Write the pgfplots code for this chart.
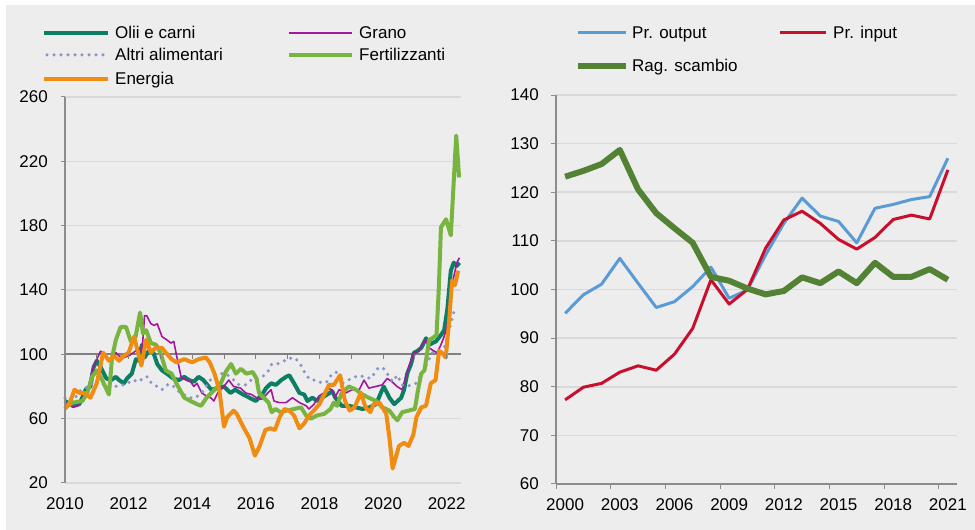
\documentclass[border=0pt]{standalone}
\usepackage{fontspec}
\setmainfont{Liberation Sans}
\usepackage{pgfplots}
\pgfplotsset{compat=1.18}
\definecolor{bg}{HTML}{EDEDED}
\definecolor{gridc}{HTML}{D9D9D9}
\definecolor{axisgray}{HTML}{8C8C8C}
\definecolor{gray100}{HTML}{808080}
\definecolor{cteal}{HTML}{0B7E63}
\definecolor{cpurple}{HTML}{A3179E}
\definecolor{cdots}{HTML}{8C93C8}
\definecolor{clgreen}{HTML}{78B440}
\definecolor{corange}{HTML}{F08C12}
\definecolor{cblue}{HTML}{5B9BD5}
\definecolor{cred}{HTML}{C8102E}
\definecolor{cdgreen}{HTML}{548235}
\tikzset{
  sTeal/.style={cteal, line width=4pt, line join=round},
  sPurple/.style={cpurple, line width=1.6pt, line join=round},
  sDots/.style={cdots, line width=3.5pt, line cap=round, dash pattern=on 0pt off 7pt},
  sLgreen/.style={clgreen, line width=4pt, line join=round},
  sOrange/.style={corange, line width=4pt, line join=round},
  sBlue/.style={cblue, line width=3pt, line join=round},
  sRed/.style={cred, line width=3pt, line join=round},
  sDgreen/.style={cdgreen, line width=6pt, line join=round},
}
\pgfplotsset{
  common/.style={
    scale only axis, clip=false,
    axis line style={draw=none},
    xtick pos=bottom, ytick pos=left,
    tick align=outside,
    ymajorgrids, grid style={draw=gridc, line width=1.6pt},
    tick label style={font=\fontsize{17}{20}\selectfont},
    /pgf/number format/assume math mode=true,
    /pgf/number format/1000 sep={},
  },
}
\begin{document}
\fontsize{17}{20}\selectfont
\begin{tikzpicture}[x=1pt,y=1pt]
\fill[white] (0,0) rectangle (975,530);
\fill[bg] (6,0) rectangle (975,525);
% ---------------- left chart
\begin{axis}[common,
  at={(65pt,47pt)}, anchor=south west,
  width=396pt, height=386pt,
  xmin=2010, xmax=2022.45, ymin=20, ymax=260,
  xtick={2010,2012,...,2022}, ytick={20,60,...,260},
  major x tick style={draw=none},
  y tick style={draw=axisgray, line width=1pt},
  major tick length=4pt,
  extra y ticks={100}, extra y tick labels={},
  extra y tick style={major grid style={draw=gray100, line width=2pt}},
  xticklabel style={anchor=north, inner sep=0pt, yshift=-10pt},
  yticklabel style={anchor=east, inner sep=0pt, xshift=-13pt},
]
\addplot[sTeal] coordinates {
(2010.0,71) (2010.25,68) (2010.45,69) (2010.65,78) (2010.8,80) (2010.9,92) (2011.0,96) (2011.12,92) (2011.3,85) (2011.45,84) (2011.6,86) (2011.7,84) (2011.85,82) (2011.95,85) (2012.1,88) (2012.23,97) (2012.33,96) (2012.42,106) (2012.5,98) (2012.63,102) (2012.78,101) (2012.9,94) (2013.05,90) (2013.2,88) (2013.4,85) (2013.58,84) (2013.75,86) (2013.9,84) (2014.05,83) (2014.2,86) (2014.35,84) (2014.6,78) (2014.8,79) (2015.0,80) (2015.2,76) (2015.35,78) (2015.6,75) (2015.8,73) (2016.0,71) (2016.2,75) (2016.32,79) (2016.48,82) (2016.63,81) (2016.8,84) (2016.95,86) (2017.05,87) (2017.2,82) (2017.37,76) (2017.52,75) (2017.62,71) (2017.78,73) (2017.93,71) (2018.08,73) (2018.24,75) (2018.4,77) (2018.5,73) (2018.7,68) (2018.93,68) (2019.15,67) (2019.35,66) (2019.57,67) (2019.78,69) (2019.93,76) (2020.02,80) (2020.2,73) (2020.35,69) (2020.57,73) (2020.66,78) (2020.76,88) (2020.88,94) (2020.97,101) (2021.07,102) (2021.2,104) (2021.35,110) (2021.45,106) (2021.55,107) (2021.66,108) (2021.82,112) (2021.92,115) (2022.02,128) (2022.13,152) (2022.22,157) (2022.32,155) (2022.4,157)
};
\addplot[sPurple] coordinates {
(2010.0,69) (2010.1,70) (2010.25,67) (2010.4,68) (2010.55,73) (2010.7,76) (2010.85,90) (2011.0,97) (2011.12,102) (2011.3,98) (2011.45,95) (2011.6,101) (2011.7,99) (2011.85,98) (2012.0,99) (2012.15,101) (2012.33,104) (2012.42,101) (2012.5,124) (2012.57,124) (2012.7,119) (2012.8,118) (2012.9,119) (2013.05,111) (2013.2,109) (2013.33,107) (2013.42,108) (2013.52,98) (2013.65,86) (2013.8,84) (2013.95,83) (2014.05,80) (2014.15,82) (2014.3,76) (2014.45,74) (2014.58,73) (2014.68,71) (2014.8,76) (2014.95,79) (2015.15,84) (2015.3,80) (2015.52,79) (2015.68,76) (2015.87,75) (2016.02,73) (2016.18,72) (2016.33,75) (2016.48,78) (2016.57,71) (2016.73,70) (2016.95,70) (2017.15,73) (2017.37,70) (2017.58,68) (2017.67,66) (2017.83,69) (2017.98,74) (2018.14,76) (2018.24,79) (2018.4,78) (2018.48,73) (2018.62,78) (2018.83,76) (2019.03,78) (2019.25,78) (2019.4,84) (2019.55,79) (2019.77,80) (2019.97,81) (2020.13,85) (2020.28,83) (2020.44,80) (2020.6,78) (2020.72,86) (2020.82,93) (2020.97,101) (2021.13,102) (2021.23,106) (2021.35,109) (2021.45,104) (2021.6,102) (2021.7,101) (2021.82,106) (2021.92,111) (2022.02,118) (2022.13,140) (2022.22,148) (2022.32,157) (2022.4,160)
};
\addplot[sDots] coordinates {
(2010.0,73) (2010.25,71) (2010.5,78) (2010.75,80) (2011.0,84) (2011.23,81) (2011.48,79) (2011.7,81) (2011.92,81) (2012.1,84) (2012.33,83) (2012.48,86) (2012.6,86) (2012.72,82) (2012.9,80) (2013.05,78) (2013.2,81) (2013.37,81) (2013.5,78) (2013.65,76) (2013.9,73) (2014.1,73) (2014.3,76) (2014.53,83) (2014.68,87) (2014.85,88) (2015.05,88) (2015.25,85) (2015.47,81) (2015.68,81) (2015.85,84) (2016.03,84) (2016.27,87) (2016.4,90) (2016.5,94) (2016.67,94) (2016.82,95) (2016.97,97) (2017.2,98) (2017.37,95) (2017.47,91) (2017.58,87) (2017.73,84) (2017.9,84) (2018.08,82) (2018.24,83) (2018.4,88) (2018.55,89) (2018.63,86) (2018.72,82) (2019.0,85) (2019.25,87) (2019.4,86) (2019.62,85) (2019.82,91) (2019.98,92) (2020.2,86) (2020.3,83) (2020.45,87) (2020.6,81) (2020.75,80) (2021.03,82) (2021.22,88) (2021.35,93) (2021.55,101) (2021.7,102) (2021.92,104) (2022.07,115) (2022.17,122) (2022.27,130)
};
\addplot[sLgreen] coordinates {
(2010.0,67) (2010.25,70) (2010.55,71) (2010.7,76) (2010.85,86) (2011.0,90) (2011.17,84) (2011.38,75) (2011.48,98) (2011.6,109) (2011.75,117) (2011.92,117) (2012.07,108) (2012.22,111) (2012.36,126) (2012.45,113) (2012.55,115) (2012.7,107) (2012.86,106) (2013.0,101) (2013.17,90) (2013.35,88) (2013.5,82) (2013.75,73) (2013.95,71) (2014.15,69) (2014.28,68) (2014.45,73) (2014.75,79) (2014.9,82) (2015.05,89) (2015.22,94) (2015.37,88) (2015.53,91) (2015.7,88) (2015.9,89) (2016.02,85) (2016.1,76) (2016.25,73) (2016.4,70) (2016.5,64) (2016.62,66) (2016.78,64) (2016.97,65) (2017.2,66) (2017.42,67) (2017.58,62) (2017.73,60) (2017.92,62) (2018.15,63) (2018.35,66) (2018.45,70) (2018.55,68) (2018.7,76) (2018.93,80) (2019.15,78) (2019.35,75) (2019.55,73) (2019.78,71) (2019.98,67) (2020.2,65) (2020.35,61) (2020.45,59) (2020.6,64) (2020.8,65) (2021.0,66) (2021.1,78) (2021.2,88) (2021.3,90) (2021.45,109) (2021.55,110) (2021.68,112) (2021.75,140) (2021.82,179) (2021.98,184) (2022.13,174) (2022.3,236) (2022.39,210)
};
\addplot[sOrange] coordinates {
(2010.0,66) (2010.15,70) (2010.3,78) (2010.45,76) (2010.6,76) (2010.8,73) (2011.0,82) (2011.2,101) (2011.38,96) (2011.55,99) (2011.7,96) (2011.85,99) (2012.0,101) (2012.17,111) (2012.3,101) (2012.4,93) (2012.55,109) (2012.7,101) (2012.85,104) (2013.05,104) (2013.17,101) (2013.35,97) (2013.5,95) (2013.75,97) (2014.0,95) (2014.2,97) (2014.43,98) (2014.55,95) (2014.7,88) (2014.85,78) (2015.0,55) (2015.1,61) (2015.3,65) (2015.4,63) (2015.6,55) (2015.8,48) (2015.97,37) (2016.12,43) (2016.3,53) (2016.45,54) (2016.6,53) (2016.75,61) (2016.9,66) (2017.05,65) (2017.2,62) (2017.37,54) (2017.52,57) (2017.67,62) (2017.82,65) (2018.0,69) (2018.18,76) (2018.3,81) (2018.45,81) (2018.65,87) (2018.8,71) (2018.95,65) (2019.1,67) (2019.3,76) (2019.45,67) (2019.6,64) (2019.7,69) (2019.88,70) (2019.98,67) (2020.1,63) (2020.2,48) (2020.3,29) (2020.4,36) (2020.5,43) (2020.66,45) (2020.8,43) (2020.95,50) (2021.05,61) (2021.2,67) (2021.35,68) (2021.5,82) (2021.65,84) (2021.76,102) (2021.85,101) (2021.97,98) (2022.07,119) (2022.17,146) (2022.26,143) (2022.36,152)
};
\draw[axisgray, line width=1.5pt] (rel axis cs:0,0) -- (rel axis cs:0,1);
\pgfplotsinvokeforeach{2011,2012,...,2022}{\draw[gray100, line width=1pt] (axis cs:#1,100) -- ++(0pt,-5pt);}
\end{axis}
% ---------------- right chart
\begin{axis}[common,
  at={(556pt,46pt)}, anchor=south west,
  width=401pt, height=389pt,
  xmin=1999.5, xmax=2021.5, ymin=60, ymax=140,
  xtick={2000,2003,...,2021}, ytick={60,70,...,140},
  minor xtick={1999.5,2002.5,...,2020.5},
  major x tick style={draw=none},
  minor x tick style={draw=axisgray, line width=1pt},
  minor tick length=5pt,
  y tick style={draw=axisgray, line width=1pt},
  major tick length=5pt,
  xticklabel style={anchor=north, inner sep=0pt, yshift=-9pt},
  yticklabel style={anchor=east, inner sep=0pt, xshift=-12pt},
]
\addplot[sBlue] coordinates {
(2000,95.1) (2001,98.9) (2002,101.1) (2003,106.4) (2004,101.3) (2005,96.3) (2006,97.5) (2007,100.6) (2008,104.6) (2009,98.2) (2010,99.9) (2011,107.1) (2012,113.6) (2013,118.8) (2014,115.1) (2015,114.0) (2016,109.6) (2017,116.7) (2018,117.5) (2019,118.5) (2020,119.1) (2021,127.0)
};
\addplot[sRed] coordinates {
(2000,77.3) (2001,79.9) (2002,80.7) (2003,83.0) (2004,84.3) (2005,83.4) (2006,86.7) (2007,92.0) (2008,102.0) (2009,97.0) (2010,100.0) (2011,108.5) (2012,114.3) (2013,116.1) (2014,113.6) (2015,110.3) (2016,108.3) (2017,110.7) (2018,114.4) (2019,115.3) (2020,114.5) (2021,124.6)
};
\addplot[sDgreen] coordinates {
(2000,123.2) (2001,124.4) (2002,125.8) (2003,128.7) (2004,120.6) (2005,115.7) (2006,112.6) (2007,109.6) (2008,102.6) (2009,101.8) (2010,100.2) (2011,99.0) (2012,99.7) (2013,102.5) (2014,101.3) (2015,103.7) (2016,101.3) (2017,105.5) (2018,102.6) (2019,102.6) (2020,104.2) (2021,102.0)
};
\draw[axisgray, line width=2pt] (rel axis cs:0,0) -- (rel axis cs:0,1);
\draw[axisgray, line width=2pt] (rel axis cs:0,0) -- (rel axis cs:1,0);
\end{axis}
% ---------------- legends (image y = 530 - pixel row)
\draw[sTeal]   (44,497) -- (108,497);  \node[anchor=base west, inner sep=0pt] at (115,491.5) {Olii e carni};
\draw[sPurple] (289,497) -- (352,497); \node[anchor=base west, inner sep=0pt] at (359,491.5) {Grano};
\draw[sDots]   (47,475) -- (108,475);  \node[anchor=base west, inner sep=0pt] at (115,469.5) {Altri alimentari};
\draw[sLgreen] (289,475) -- (352,475); \node[anchor=base west, inner sep=0pt] at (359,469.5) {Fertilizzanti};
\draw[sOrange] (44,451) -- (108,451);  \node[anchor=base west, inner sep=0pt] at (115,445.5) {Energia};
\draw[sBlue]   (578,497) -- (626,497); \node[anchor=base west, inner sep=0pt] at (632,491.5) {Pr. output};
\draw[sRed]    (780,497) -- (826,497); \node[anchor=base west, inner sep=0pt] at (833,491.5) {Pr. input};
\draw[sDgreen] (578,464) -- (626,464); \node[anchor=base west, inner sep=0pt] at (632,458.5) {Rag. scambio};
\end{tikzpicture}
\end{document}
